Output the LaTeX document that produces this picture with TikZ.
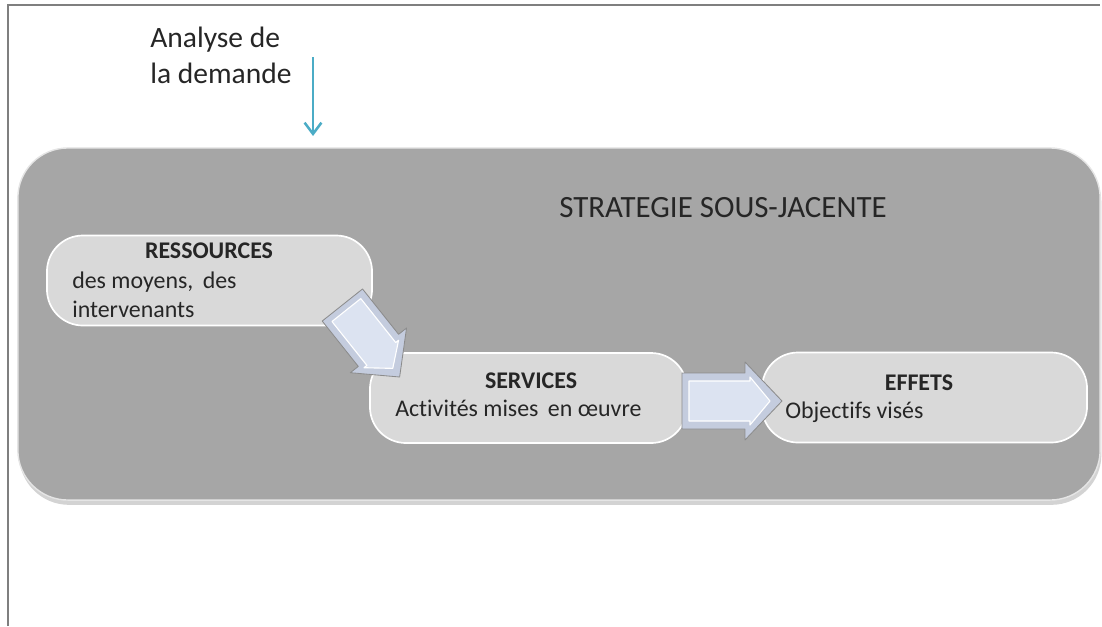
\documentclass[tikz,border=0pt]{standalone}
\usepackage{fontspec}
\setmainfont{Carlito}[Ligatures=NoCommon]
\usetikzlibrary{shadows,arrows.meta}

\definecolor{framegray}{RGB}{127,127,127}
\definecolor{stratgray}{RGB}{166,166,166}
\definecolor{boxgray}{RGB}{217,217,217}
\definecolor{arrowrim}{RGB}{196,204,222}
\definecolor{arrowblue}{RGB}{220,227,241}
\definecolor{demandblue}{RGB}{75,172,198}

\begin{document}
\begin{tikzpicture}[x=0.025cm,y=-0.025cm,
  box/.style={rectangle,rounded corners=0.9cm,draw=white,line width=1.2pt,fill=boxgray,minimum height=2.25cm},
  title/.style={font=\fontsize{17}{20.5}\selectfont\bfseries,text=black!85,anchor=base,inner sep=0pt},
  body/.style={font=\fontsize{17}{20.5}\selectfont,text=black!85,anchor=base west,align=left,inner sep=0pt},
  rim/.style={draw=gray!90,line width=0.6pt,fill=arrowrim,line join=round},
  face/.style={fill=arrowblue,draw=white,line width=0.8pt,line join=round}]
\useasboundingbox (0,0) rectangle (1102,626);
\draw [framegray,line width=1.5pt] (8,626) -- (8,5) -- (1100,5);

% demande
\node (dem) [anchor=base west,align=left,inner sep=0pt,font=\fontsize{21}{25}\selectfont,text=black!85] at (150,83) {Analyse de\\la demande};
\coordinate (dtop) at (313,57);
\coordinate (dbot) at (313,136);
\draw [demandblue,line width=1.8pt,-{Straight Barb[length=8pt,width=12pt,line width=1.8pt]}] (dtop) -- (dbot);

% strategie
\node (strat) [rectangle,rounded corners=1.25cm,fill=stratgray,draw=gray!20,line width=1pt,minimum width=27.05cm,minimum height=8.8cm,
  drop shadow={opacity=0.35,shadow xshift=0.03cm,shadow yshift=-0.12cm}] at (559,324) {};
\node (stitle) [anchor=base,inner sep=0pt,font=\fontsize{22}{26}\selectfont,text=black!85] at (723,217) {STRATEGIE SOUS-JACENTE};

\node (ress) [box,minimum width=8.125cm] at (209.5,280.5) {};
\node (serv) [box,minimum width=7.925cm] at (528.5,398) {};
\node (eff) [box,minimum width=8.125cm] at (924.5,397.5) {};

\node (rt) [title] at (209,258) {RESSOURCES};
\node (rb) [body] at (72,317) {des moyens,\, des\\intervenants};
\node (st) [title] at (531,388) {SERVICES};
\node (sb) [body] at (395,416) {Activités mises\, en œuvre};
\node (et) [title] at (919,390) {EFFETS};
\node (eb) [body] at (785,418) {Objectifs visés};

% fleches
\foreach \px/\py/\ang/\sc in {371/341/-51.5/0.92,732/401/0/1} {
  \begin{scope}[shift={(\px,\py)},rotate=\ang,scale=\sc]
    \draw [rim] (-50,-28) -- (13,-28) -- (13,-39) -- (50,0) -- (13,39) -- (13,28) -- (-50,28) -- cycle;
    \draw [face] (-43,-20) -- (18,-20) -- (18,-24) -- (38,0) -- (18,24) -- (18,20) -- (-43,20) -- cycle;
  \end{scope}
}
\end{tikzpicture}
\end{document}
